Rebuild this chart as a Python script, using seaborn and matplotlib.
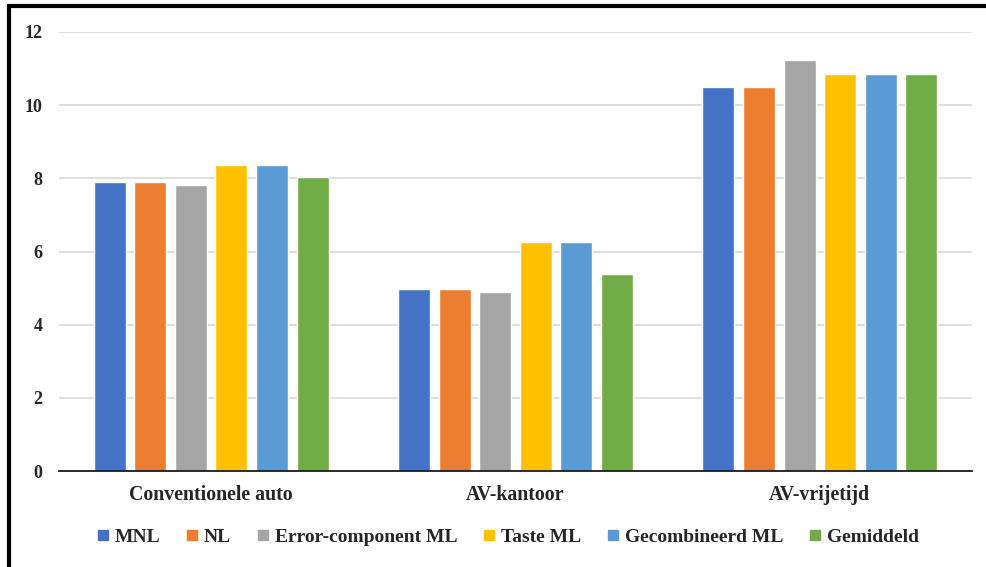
import matplotlib
matplotlib.use("Agg")
import matplotlib.pyplot as plt
from matplotlib.lines import Line2D
import seaborn as sns
import pandas as pd

categories = ["Conventionele auto", "AV-kantoor", "AV-vrijetijd"]
models = ["MNL", "NL", "Error-component ML", "Taste ML", "Gecombineerd ML", "Gemiddeld"]
mnl = [7.90, 4.97, 10.49]
nl = [7.90, 4.97, 10.49]
error_component_ml = [7.81, 4.90, 11.23]
taste_ml = [8.36, 6.26, 10.84]
gecombineerd_ml = [8.36, 6.26, 10.84]
gemiddeld = [8.03, 5.38, 10.84]
yticks = [0, 2, 4, 6, 8, 10, 12]

colors = ["#4472C4", "#ED7D31", "#A5A5A5", "#FFC000", "#5B9BD5", "#70AD47"]

series = [mnl, nl, error_component_ml, taste_ml, gecombineerd_ml, gemiddeld]
rows = []
for model, vals in zip(models, series):
    for cat, v in zip(categories, vals):
        rows.append({"categorie": cat, "model": model, "waarde": v})
df = pd.DataFrame(rows)

sns.set_theme(style="white")
plt.rcParams["font.family"] = ["Liberation Serif", "DejaVu Serif"]

fig = plt.figure(figsize=(9.86, 5.67), dpi=100)
ax = fig.add_axes([59 / 986, 1 - 471 / 567, 913 / 986, (471 - 32) / 567])

sns.barplot(data=df, x="categorie", y="waarde", hue="model", order=categories,
            hue_order=models, palette=colors, width=0.8, gap=0.21,
            saturation=1, ax=ax, legend=False, errorbar=None)

ax.set_xlim(-0.5, 2.5)
ax.set_ylim(0, 12)
ax.set_yticks(yticks)
ax.set_yticklabels([str(t) for t in yticks], fontsize=13, fontweight="bold")
ax.tick_params(axis="y", length=0, pad=12)
ax.tick_params(axis="x", length=0, pad=10, labelsize=14.3)
for lab in ax.get_xticklabels():
    lab.set_fontweight("bold")
ax.set_xlabel("")
ax.set_ylabel("")
ax.yaxis.grid(True, color="#D9D9D9", linewidth=1.2)
ax.set_axisbelow(True)
for side in ["top", "right", "left"]:
    ax.spines[side].set_visible(False)
ax.spines["bottom"].set_color("#1a1a1a")
ax.spines["bottom"].set_linewidth(1.3)

handles = [Line2D([], [], marker="s", linestyle="none", markersize=6.5,
                  markerfacecolor=c, markeredgecolor=c) for c in colors]
fig.legend(handles, models, loc="center", bbox_to_anchor=(508 / 986, 1 - 537 / 567),
           ncol=6, frameon=False, handlelength=0.6, handletextpad=0.3,
           columnspacing=1.35,
           prop={"family": "Liberation Serif", "weight": "bold", "size": 14})

# frame along the left and top edges
fig.add_artist(Line2D([8.5 / 986, 8.5 / 986], [0, 1 - 5.5 / 567], color="black",
                      linewidth=3, transform=fig.transFigure, solid_capstyle="butt"))
fig.add_artist(Line2D([7 / 986, 1], [1 - 5.5 / 567, 1 - 5.5 / 567], color="black",
                      linewidth=3, transform=fig.transFigure, solid_capstyle="butt"))

fig.savefig("out.png", dpi=100, facecolor="white")
